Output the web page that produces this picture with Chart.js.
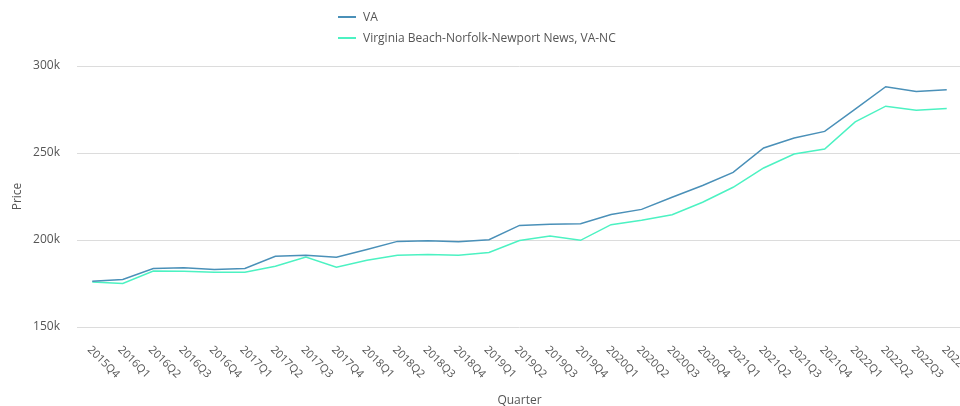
<!DOCTYPE html>
<html>
<head>
<meta charset="utf-8">
<title>Median Price by Quarter</title>
<script src="https://cdn.jsdelivr.net/npm/chart.js@4/dist/chart.umd.min.js"></script>
<style>
    html, body {
        margin: 0;
        padding: 0;
        background: #fff;
        overflow: hidden;
        font-family: "Open Sans", sans-serif;
    }
    .wrap {
        position: relative;
        width: 962px;
        height: 406px;
    }
    .legend {
        position: absolute;
        left: 338px;
        top: 6px;
        font-size: 12px;
        color: #555;
    }
    .legend-item {
        display: flex;
        align-items: center;
        height: 21px;
    }
    .legend-item span.swatch {
        display: inline-block;
        width: 18px;
        height: 2px;
        margin-right: 7px;
    }
</style>
</head>
<body>
<div class="wrap">
    <div class="legend" id="legend"></div>
    <canvas id="priceChart" width="962" height="406"></canvas>
</div>
<script>
// Quarterly prices
const quarters = [
    '2015Q4',
    '2016Q1', '2016Q2', '2016Q3', '2016Q4',
    '2017Q1', '2017Q2', '2017Q3', '2017Q4',
    '2018Q1', '2018Q2', '2018Q3', '2018Q4',
    '2019Q1', '2019Q2', '2019Q3', '2019Q4',
    '2020Q1', '2020Q2', '2020Q3', '2020Q4',
    '2021Q1', '2021Q2', '2021Q3', '2021Q4',
    '2022Q1', '2022Q2', '2022Q3', '2022Q4'
];

const vaPrices = [
    176300, 177300, 183600, 184000, 183000,
    183600, 190600, 191200, 190100, 194500,
    199200, 199500, 199000, 200200, 208400,
    209000, 209400, 214700, 217600, 224600,
    231300, 238900, 252900, 258600, 262400,
    275200, 288100, 285300, 286400
];

const metroPrices = [
    175900, 175000, 182200, 182100, 181500,
    181500, 184900, 190200, 184400, 188400,
    191200, 191600, 191200, 192800, 199700,
    202300, 199800, 208800, 211300, 214500,
    221700, 230300, 241400, 249400, 252300,
    267900, 276900, 274600, 275600
];

const seriesNames = ['VA', 'Virginia Beach-Norfolk-Newport News, VA-NC'];
const seriesColors = ['#4a90b8', '#4cf2c2'];
const yTicks = [150000, 200000, 250000, 300000];

// Legend stacked in one column
const legendEl = document.getElementById('legend');
seriesNames.forEach((name, i) => {
    const item = document.createElement('div');
    item.className = 'legend-item';
    item.innerHTML = `<span class="swatch" style="background:${seriesColors[i]}"></span>${name}`;
    legendEl.appendChild(item);
});

// Quarter labels run downward to the right from each tick
const slantedLabels = {
    id: 'slantedLabels',
    afterDraw(chart) {
        const ctx = chart.ctx;
        const xScale = chart.scales.x;
        ctx.save();
        ctx.font = '11px "Open Sans", sans-serif';
        ctx.fillStyle = '#555';
        ctx.textAlign = 'left';
        ctx.textBaseline = 'middle';
        xScale.ticks.forEach((tick, i) => {
            const x = xScale.getPixelForTick(i);
            ctx.save();
            ctx.translate(x - 3, chart.chartArea.bottom + 21);
            ctx.rotate(Math.PI / 4);
            ctx.fillText(quarters[i], 0, 0);
            ctx.restore();
        });
        ctx.restore();
    }
};

const ctx = document.getElementById('priceChart');

new Chart(ctx, {
    type: 'line',
    data: {
        labels: quarters,
        datasets: [{
            label: seriesNames[0],
            data: vaPrices,
            borderColor: seriesColors[0],
            backgroundColor: seriesColors[0],
            borderWidth: 1.5,
            pointRadius: 0,
            tension: 0
        }, {
            label: seriesNames[1],
            data: metroPrices,
            borderColor: seriesColors[1],
            backgroundColor: seriesColors[1],
            borderWidth: 1.5,
            pointRadius: 0,
            tension: 0
        }]
    },
    options: {
        responsive: false,
        animation: false,
        layout: {
            padding: { top: 66, left: 0, right: 0, bottom: 0 }
        },
        plugins: {
            legend: { display: false },
            tooltip: { enabled: false }
        },
        scales: {
            x: {
                offset: true,
                grid: { display: false, drawTicks: false },
                border: { display: false },
                ticks: { display: false },
                title: {
                    display: true,
                    text: 'Quarter',
                    color: '#555',
                    font: { family: '"Open Sans", sans-serif', size: 12 },
                    padding: { top: 0, bottom: -2 }
                },
                afterFit(scale) {
                    scale.height = 79;
                }
            },
            y: {
                min: 150000,
                max: 300000,
                afterBuildTicks(scale) {
                    scale.ticks = yTicks.map(v => ({ value: v }));
                },
                afterFit(scale) {
                    scale.width = 77;
                },
                grid: { color: '#dcdcdc', drawTicks: false },
                border: { display: false },
                ticks: {
                    padding: 17,
                    color: '#555',
                    font: { family: '"Open Sans", sans-serif', size: 12 },
                    callback: v => (v / 1000) + 'k'
                },
                title: {
                    display: true,
                    text: 'Price',
                    color: '#555',
                    font: { family: '"Open Sans", sans-serif', size: 12 },
                    padding: { top: 10, bottom: 0 }
                }
            }
        }
    },
    plugins: [slantedLabels]
});
</script>
</body>
</html>
